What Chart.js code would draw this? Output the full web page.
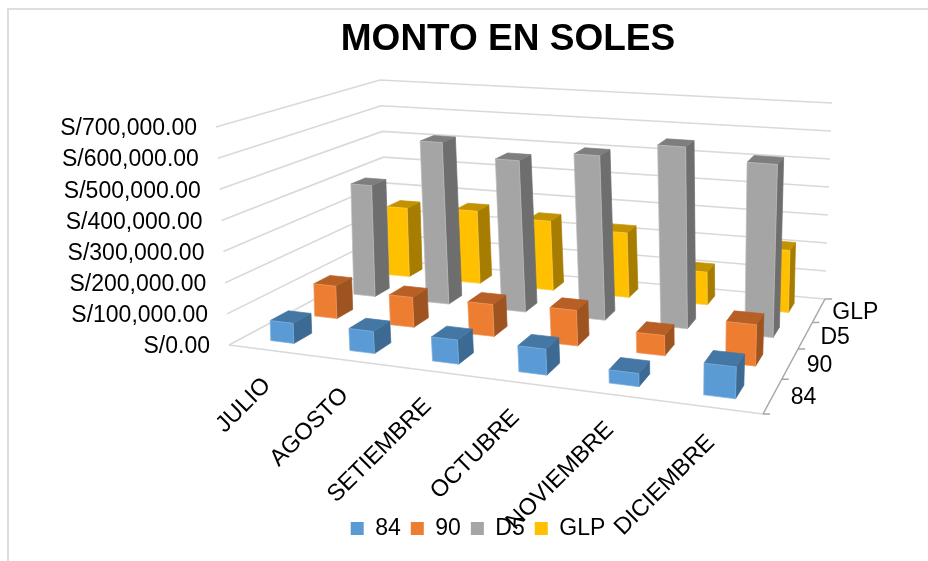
<!DOCTYPE html>
<html><head><meta charset="utf-8">
<script src="https://cdn.jsdelivr.net/npm/chart.js@4"></script>
<style>html,body{margin:0;padding:0;background:#fff}canvas{display:block}</style>
</head><body><canvas id="c" width="928" height="561"></canvas>
<script>
const categories = ["JULIO","AGOSTO","SETIEMBRE","OCTUBRE","NOVIEMBRE","DICIEMBRE"];
const seriesNames = ["84","90","D5","GLP"];
const values84 = [65000,70000,75000,80000,40000,95000];
const values90 = [110000,100000,105000,115000,65000,130000];
const valuesD5 = [395000,567000,523000,560000,610000,573000];
const valuesGLP = [255000,265000,250000,230000,115000,215000];
const yTicks = [0,100000,200000,300000,400000,500000,600000,700000];

const FONT = '"Liberation Sans", Arial, sans-serif';
const BAR_W = 0.31, BAR_D = 0.40, U_WARP = 0.0143;
// box corners on screen: floor and top planes
const floorQ = {fl:[229,345], fr:[763,414], br:[825,299], bl:[388,260]};
const topQ   = {fl:[216,127], fr:[773,174], br:[832,103], bl:[380,80]};
const barTopQ= {fl:[224,127], fr:[773,174], br:[832,103], bl:[384,80]};

function homography(q){
  const [x0,y0]=q.fl,[x1,y1]=q.fr,[x2,y2]=q.br,[x3,y3]=q.bl;
  const dx1=x1-x2,dx2=x3-x2,sx=x0-x1+x2-x3,dy1=y1-y2,dy2=y3-y2,sy=y0-y1+y2-y3;
  const d=dx1*dy2-dx2*dy1;
  const g=(sx*dy2-dx2*sy)/d,h=(dx1*sy-sx*dy1)/d;
  const a=x1-x0+g*x1,b=x3-x0+h*x3,e=y1-y0+g*y1,f=y3-y0+h*y3;
  return (u,v)=>{const w=g*u+h*v+1;return [(a*u+b*v+x0)/w,(e*u+f*v+y0)/w];};
}
const Hf=homography(floorQ),Ht=homography(topQ),Hb=homography(barTopQ);
function project(u,v,t,H){const a=Hf(u,v),b=(H||Ht)(u,v);return [a[0]+(b[0]-a[0])*t,a[1]+(b[1]-a[1])*t];}
function norm(chart){
  const {x,y,depth}=chart.scales;
  return {
    u:i=>(x.getPixelForValue(i)-x.left)/x.width,
    v:s=>(depth.bottom-depth.getPixelForValue(s))/depth.height,
    t:val=>(y.bottom-y.getPixelForValue(val))/y.height
  };
}
function poly(ctx,pts,fill,stroke){
  ctx.beginPath();pts.forEach((p,i)=>i?ctx.lineTo(p[0],p[1]):ctx.moveTo(p[0],p[1]));ctx.closePath();
  ctx.fillStyle=fill;ctx.fill();
  if(stroke){ctx.strokeStyle=stroke;ctx.lineWidth=0.7;ctx.stroke();}
}
class Bar3DController extends Chart.BarController{
  draw(){
    const chart=this.chart,ctx=chart.ctx,n=norm(chart),ds=this.getDataset(),s=this.index;
    const v=n.v(s);
    ctx.save();
    const P=(a,b,c)=>project(a,b,c,Hb);
    for(let i=ds.data.length-1;i>=0;i--){
      const raw=n.u(i),u=raw+U_WARP*4*raw*(1-raw),t=n.t(ds.data[i]);
      const u0=u-BAR_W/12,u1=u+BAR_W/12,v0=v-BAR_D/8,v1=v+BAR_D/8;
      poly(ctx,[P(u1,v0,0),P(u1,v1,0),P(u1,v1,t),P(u1,v0,t)],ds.sideColor,ds.sideColor);
      poly(ctx,[P(u0,v0,t),P(u1,v0,t),P(u1,v1,t),P(u0,v1,t)],ds.topColor,ds.topColor);
      poly(ctx,[P(u0,v0,0),P(u1,v0,0),P(u1,v0,t),P(u0,v0,t)],ds.backgroundColor,ds.edgeColor);
    }
    ctx.restore();
  }
}
Bar3DController.id='bar3d';
Bar3DController.defaults=Chart.BarController.defaults;
Chart.register(Bar3DController);

const box3d={
  id:'box3d',
  beforeDatasetsDraw(chart){
    const ctx=chart.ctx,n=norm(chart),y=chart.scales.y;
    ctx.save();
    ctx.strokeStyle='#DEDEDE';ctx.lineWidth=2;
    ctx.beginPath();ctx.moveTo(8,561);ctx.lineTo(8,9);ctx.lineTo(928,9);ctx.stroke();
    ctx.strokeStyle='#D9D9D9';ctx.lineWidth=1.6;
    y.ticks.forEach(tk=>{
      const t=n.t(tk.value),a=project(0,0,t),b=project(0,1,t),c=project(1,1,t);
      ctx.beginPath();ctx.moveTo(a[0],a[1]);ctx.lineTo(b[0],b[1]);ctx.lineTo(c[0],c[1]);ctx.stroke();
    });
    let a=project(0,0,0),b=project(1,0,0),c=project(1,1,0);
    ctx.beginPath();ctx.moveTo(a[0],a[1]);ctx.lineTo(b[0],b[1]);ctx.stroke();
    ctx.strokeStyle='#A6A6A6';ctx.lineWidth=1.5;
    ctx.beginPath();ctx.moveTo(b[0],b[1]);ctx.lineTo(c[0],c[1]);ctx.stroke();
    for(let k=0;k<=seriesNames.length;k++){
      const p=project(1,k/seriesNames.length,0);
      ctx.beginPath();ctx.moveTo(p[0],p[1]);ctx.lineTo(p[0]+7,p[1]);ctx.stroke();
    }
    ctx.restore();
  },
  afterDatasetsDraw(chart){
    const ctx=chart.ctx,n=norm(chart),y=chart.scales.y;
    ctx.save();
    ctx.fillStyle='#000';ctx.font='23px '+FONT;ctx.textBaseline='middle';
    ctx.textAlign='right';
    y.ticks.forEach(tk=>{
      const p=project(0,0,n.t(tk.value));
      ctx.fillText(tk.label,p[0]-19,p[1]+2);
    });
    ctx.textAlign='left';
    seriesNames.forEach((name,s)=>{
      const p=project(1,n.v(s),0);
      ctx.fillText(name,p[0]+18-s*1.5,p[1]+2);
    });
    ctx.textAlign='right';
    ctx.font='23.5px '+FONT;
    categories.forEach((name,i)=>{
      const p=project(n.u(i),0,0);
      ctx.save();ctx.translate(p[0]+1,p[1]+32);ctx.rotate(-Math.PI/4);
      ctx.fillText(name,0,0);ctx.restore();
    });
    ctx.restore();
  }
};

new Chart(document.getElementById('c'),{
  type:'bar3d',
  plugins:[box3d],
  data:{
    labels:categories,
    datasets:[
      {label:seriesNames[0],data:values84,backgroundColor:'#5B9BD5',sideColor:'#3D6A92',topColor:'#4577A5',edgeColor:'#7DB0DE',clip:false},
      {label:seriesNames[1],data:values90,backgroundColor:'#ED7D31',sideColor:'#9E5420',topColor:'#B75F25',edgeColor:'#F29A5E',clip:false},
      {label:seriesNames[2],data:valuesD5,backgroundColor:'#A5A5A5',sideColor:'#6E6E6E',topColor:'#7E7E7E',edgeColor:'#BDBDBD',clip:false},
      {label:seriesNames[3],data:valuesGLP,backgroundColor:'#FFC000',sideColor:'#A67D00',topColor:'#C29200',edgeColor:'#FFCF40',clip:false}
    ]
  },
  options:{
    responsive:false,animation:false,
    layout:{padding:{left:28,right:0,top:0,bottom:11}},
    scales:{
      x:{type:'category',display:true,position:'bottom',offset:true,grid:{display:false},border:{display:false},ticks:{display:false},afterFit(s){s.height=161;}},
      y:{type:'linear',min:0,max:700000,position:'left',afterBuildTicks(s){s.ticks=yTicks.map(v=>({value:v}));},
         grid:{display:false},border:{display:false},
         ticks:{display:false,callback:v=>'S/'+v.toLocaleString('en-US',{minimumFractionDigits:2,maximumFractionDigits:2})},
         afterFit(s){s.width=182;}},
      depth:{type:'category',labels:seriesNames,position:'right',axis:'y',reverse:true,offset:true,grid:{display:false},border:{display:false},ticks:{display:false},afterFit(s){s.width=122;}}
    },
    plugins:{
      title:{display:true,text:'MONTO EN SOLES',fullSize:false,color:'#000',font:{family:FONT,size:37,weight:'bold'},padding:{top:18,bottom:64}},
      legend:{position:'bottom',labels:{boxWidth:13,boxHeight:13,padding:10,color:'#000',font:{family:FONT,size:23}}},
      tooltip:{enabled:false}
    }
  }
});
</script></body></html>
